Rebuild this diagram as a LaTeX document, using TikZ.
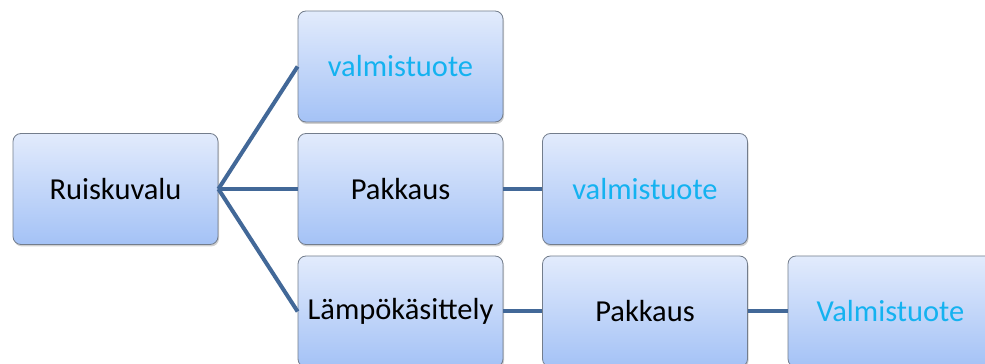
\documentclass[tikz,border=0pt]{standalone}
\usepackage{fontspec}
\setmainfont{Carlito}
\usetikzlibrary{shadows}
\definecolor{linkblue}{RGB}{66,104,152}
\definecolor{boxtop}{RGB}{226,235,252}
\definecolor{boxbot}{RGB}{164,194,246}
\definecolor{boxedge}{RGB}{115,125,140}
\definecolor{outtext}{RGB}{20,178,240}
\tikzset{
  stagebox/.style={draw=boxedge, line width=0.8pt, rounded corners=8pt,
    top color=boxtop, bottom color=boxbot,
    minimum width=205pt, minimum height=111pt, inner sep=0pt,
    font=\fontsize{30.5}{36}\selectfont,
    drop shadow={shadow xshift=1pt, shadow yshift=-2pt, opacity=0.3, fill=black!60}},
  product/.style={stagebox, text=outtext},
  link/.style={draw=linkblue, line width=4pt}
}
\begin{document}
\begin{tikzpicture}[x=1pt,y=1pt]
  \useasboundingbox (0,0) rectangle (985,364);
  \clip (0,0) rectangle (985,364);
  \fill[white] (0,0) rectangle (985,364);
  % process chain
  \node[stagebox] (ruisku) at (115.5,175) {Ruiskuvalu};
  \node[product]  (val1)   at (400.5,297.5) {valmistuote};
  \node[stagebox] (pak1)   at (400.5,175) {Pakkaus};
  \node[product]  (val2)   at (645,175) {valmistuote};
  \node[stagebox] (lampo)  at (400.5,52.5) {Lämpökäsittely};
  \node[stagebox] (pak2)   at (645,52.5) {Pakkaus};
  \node[product]  (val3)   at (890.5,52.5) {Valmistuote};
  % connectors
  \draw[link] (ruisku.east) -- (val1.west);
  \draw[link] (ruisku.east) -- (pak1.west);
  \draw[link] (ruisku.east) -- (lampo.west);
  \draw[link] (pak1.east) -- (val2.west);
  \draw[link] (lampo.east) -- (pak2.west);
  \draw[link] (pak2.east) -- (val3.west);
\end{tikzpicture}
\end{document}
